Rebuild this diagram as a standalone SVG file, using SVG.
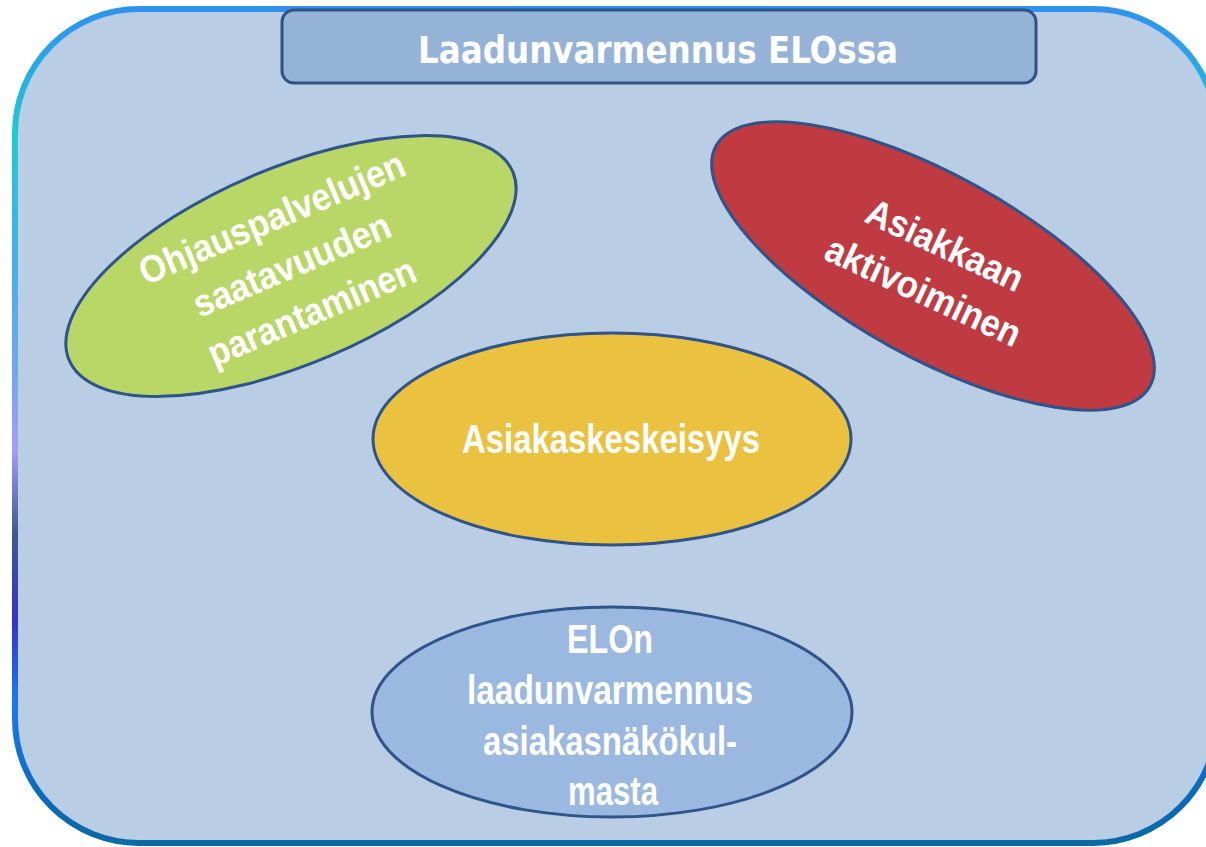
<svg xmlns="http://www.w3.org/2000/svg" width="1206" height="847" viewBox="0 0 1206 847">
  <defs>
    <linearGradient id="frameGrad" gradientUnits="userSpaceOnUse" x1="0" y1="0" x2="0" y2="847">
      <stop offset="0" stop-color="#2f8fee"/>
      <stop offset="0.06" stop-color="#2aa2ea"/>
      <stop offset="0.16" stop-color="#1ecad2"/>
      <stop offset="0.32" stop-color="#46aee8"/>
      <stop offset="0.45" stop-color="#78a6ee"/>
      <stop offset="0.53" stop-color="#a29ff6"/>
      <stop offset="0.63" stop-color="#3a5c92"/>
      <stop offset="0.73" stop-color="#3434c8"/>
      <stop offset="0.83" stop-color="#1a7af0"/>
      <stop offset="0.94" stop-color="#0a6ab8"/>
      <stop offset="1" stop-color="#0a6aa2"/>
    </linearGradient>
  </defs>
  <style>
    .frame { fill: #b9cde5; stroke: url(#frameGrad); stroke-width: 6; }
    .title-box { fill: #95b3d7; stroke: #2f5283; stroke-width: 3; }
    .oval { stroke: #2e5489; stroke-width: 3; }
    .lbl { fill: #ffffff; font-family: "Liberation Sans", Arial, sans-serif; font-weight: bold; text-anchor: middle; }
    .title { fill: #ffffff; font-family: "DejaVu Sans Condensed", "DejaVu Sans", sans-serif; font-weight: bold; text-anchor: middle; font-size: 37px; }
  </style>

  <rect class="frame" x="15" y="9" width="1202" height="834" rx="124" ry="124"/>

  <g id="title">
    <rect class="title-box" x="282" y="10" width="754" height="73" rx="12" ry="12"/>
    <text class="title" x="658" y="63" textLength="480" lengthAdjust="spacingAndGlyphs">Laadunvarmennus ELOssa</text>
  </g>

  <g id="connectors"></g>

  <g id="node-ohjaus">
    <ellipse class="oval" cx="291" cy="266" rx="241" ry="98" transform="rotate(-23 291 266)" fill="#b8d766"/>
    <g transform="translate(291 263) rotate(-23)">
      <text class="lbl" x="0" y="-36" font-size="38" textLength="285" lengthAdjust="spacingAndGlyphs">Ohjauspalvelujen</text>
      <text class="lbl" x="0" y="15" font-size="38" textLength="211" lengthAdjust="spacingAndGlyphs">saatavuuden</text>
      <text class="lbl" x="0" y="66" font-size="38" textLength="222" lengthAdjust="spacingAndGlyphs">parantaminen</text>
    </g>
  </g>

  <g id="node-aktivointi">
    <ellipse class="oval" cx="933" cy="266" rx="248" ry="91" transform="rotate(29 933 266)" fill="#bf3a41"/>
    <g transform="translate(933 266) rotate(25)">
      <text class="lbl" x="2" y="-11" font-size="38" textLength="169" lengthAdjust="spacingAndGlyphs">Asiakkaan</text>
      <text class="lbl" x="2" y="40" font-size="38" textLength="211" lengthAdjust="spacingAndGlyphs">aktivoiminen</text>
    </g>
  </g>

  <g id="node-asiakaskeskeisyys">
    <ellipse class="oval" cx="612" cy="439" rx="239" ry="106" fill="#ebc240"/>
    <text class="lbl" x="611" y="453" font-size="41" textLength="298" lengthAdjust="spacingAndGlyphs">Asiakaskeskeisyys</text>
  </g>

  <g id="node-elon">
    <ellipse class="oval" cx="612" cy="712" rx="240" ry="105" fill="#9ab8e0"/>
    <text class="lbl" x="610" y="653" font-size="40" textLength="86" lengthAdjust="spacingAndGlyphs">ELOn</text>
    <text class="lbl" x="610" y="704" font-size="40" textLength="286" lengthAdjust="spacingAndGlyphs">laadunvarmennus</text>
    <text class="lbl" x="610" y="755" font-size="40" textLength="254" lengthAdjust="spacingAndGlyphs">asiakasnäkökul-</text>
    <text class="lbl" x="613" y="805" font-size="40" textLength="90" lengthAdjust="spacingAndGlyphs">masta</text>
  </g>
</svg>
